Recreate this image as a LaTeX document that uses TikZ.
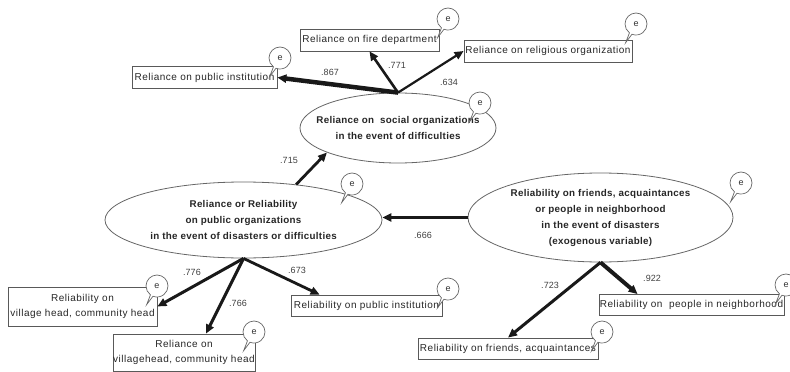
\documentclass[tikz,border=0pt]{standalone}
\usepackage{fontspec}
\setmainfont{Liberation Sans}
\newfontfamily\boxfont[LetterSpace=5]{Liberation Sans}
\newfontfamily\ovalfont[LetterSpace=3]{Liberation Sans}
\usetikzlibrary{arrows.meta,shapes.geometric,shapes.callouts,calc}
\begin{document}
\begin{tikzpicture}[x=1pt,y=-1pt,
  obs/.style={draw=black!65, line width=0.8pt, rectangle, inner sep=0pt, align=center,
    font=\boxfont\fontsize{10}{15}\selectfont, text=black!85},
  lat/.style={draw=black!60, line width=0.8pt, ellipse, inner sep=0pt},
  lattext/.style={align=center, inner sep=0pt, font=\ovalfont\fontsize{9.8}{16}\selectfont\bfseries, text=black!85},
  err/.style={ellipse callout, draw=black!60, line width=0.7pt, fill=white,
    minimum width=22pt, minimum height=22pt, inner sep=0pt,
    callout relative pointer={(-5pt,-9pt)}, font=\fontsize{9}{9}\selectfont, text=black!80},
  link/.style={-{Triangle[length=9pt,width=8pt]}, line width=#1, black!90},
  coef/.style={font=\fontsize{9}{9}\selectfont, text=black!75}
]
\useasboundingbox (0,0) rectangle (790,372);

% latent variables
\node[lat, minimum width=196, minimum height=70] (e1) at (398,128) {};
\node[lattext] (e1t) at (e1) {Reliance on\ \ social organizations\\in the event of difficulties};
\node[lat, minimum width=277, minimum height=76] (e2) at (243.5,220) {};
\node[lattext] (e2t) at (e2) {Reliance or Reliability\\on public organizations\\in the event of disasters or difficulties};
\node[lat, minimum width=265, minimum height=89] (e3) at (600.5,217.5) {};
\node[lattext] (e3t) at (e3) {Reliability on friends, acquaintances\\or people in neighborhood\\in the event of disasters\\(exogenous variable)};

% observed variables
\node[obs, minimum width=145, minimum height=22] (pubinst) at (204.5,77.5) {Reliance on public institution};
\node[obs, minimum width=139, minimum height=22] (fire) at (369.5,40) {Reliance on fire department};
\node[obs, minimum width=168, minimum height=22] (relig) at (548,51) {Reliance on religious organization};
\node[obs, minimum width=149, minimum height=39] (villhead) at (82.5,306.5) {Reliability on\\village head, community head};
\node[obs, minimum width=142, minimum height=37] (relvill) at (184,352.5) {Reliance on\\villagehead, community head};
\node[obs, minimum width=151, minimum height=21] (relpub) at (366.5,305.5) {Reliability on public institution};
\node[obs, minimum width=180, minimum height=21] (friends) at (508,348.5) {Reliability on friends, acquaintances};
\node[obs, minimum width=185, minimum height=21] (neigh) at (691.5,305) {Reliability on\ \ people in neighborhood};

% paths
\draw[link=4.5pt] (e1.north) -- (pubinst.east);
\draw[link=2.6pt] (e1.north) -- (fire.south);
\draw[link=2.2pt] (e1.north) -- (relig.west);
\draw[link=2.8pt] (e2.34) -- (e1.199);
\draw[link=3.2pt] (e3.west) -- (e3.west -| e2.east);
\draw[link=3pt] (e2.south) -- (villhead.east);
\draw[link=3pt] (e2.south) -- ($(relvill.north)+(22,0)$);
\draw[link=2.8pt] (e2.south) -- ($(relpub.north west)+(29,0)$);
\draw[link=3pt] (e3.south) -- (friends.north);
\draw[link=4pt] (e3.south) -- ($(neigh.north west)+(39,0)$);

% coefficients
\node[coef] (c1) at (330,72) {.867};
\node[coef] (c2) at (397,65) {.771};
\node[coef] (c3) at (449,82) {.634};
\node[coef] (c4) at (289,160) {.715};
\node[coef] (c5) at (423,235) {.666};
\node[coef] (c6) at (192,272) {.776};
\node[coef] (c7) at (238,303) {.766};
\node[coef] (c8) at (297,270) {.673};
\node[coef] (c9) at (550,285) {.723};
\node[coef] (c10) at (652,278) {.922};

% error terms
\node[err] (r1) at (448,19) {e};
\node[err] (r2) at (280,58) {e};
\node[err] (r3) at (636,24) {e};
\node[err] (r4) at (480,103) {e};
\node[err] (r5) at (352,184) {e};
\node[err] (r6) at (741,183) {e};
\node[err] (r7) at (157,286) {e};
\node[err] (r8) at (254,332) {e};
\node[err] (r9) at (448,289) {e};
\node[err] (r10) at (602,332) {e};
\node[err] (r11) at (786,285) {e};
\end{tikzpicture}
\end{document}
